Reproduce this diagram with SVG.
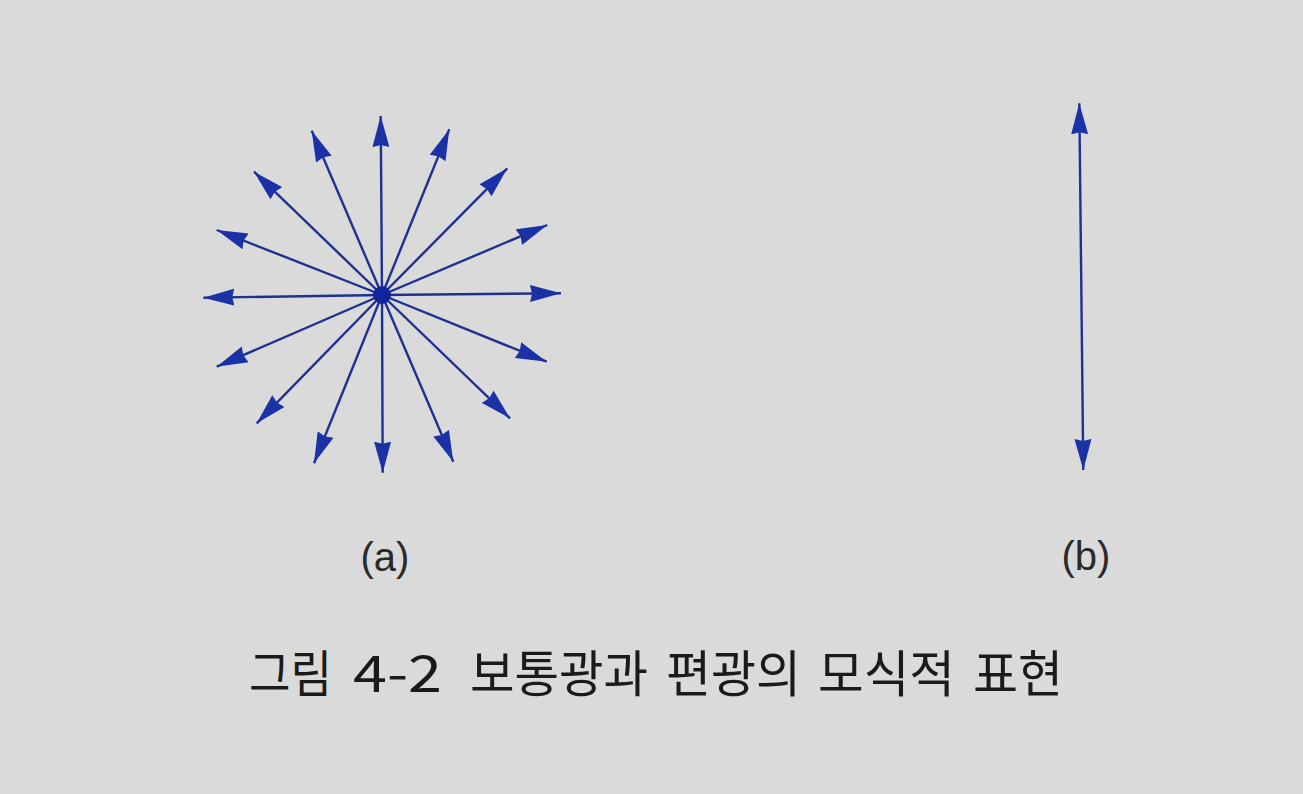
<svg xmlns="http://www.w3.org/2000/svg" width="1303" height="794" viewBox="0 0 1303 794">
<defs>
<marker id="ah" viewBox="-31 -9 31 18" refX="0" refY="0" markerWidth="31" markerHeight="18" markerUnits="userSpaceOnUse" orient="auto-start-reverse">
<path d="M0,0 L-31,-8.5 L-29,0 L-31,8.5 Z" class="head"/>
</marker>
</defs>
<style>
.bg{fill:#dadada}
.ray{stroke:#1f3190;stroke-width:2.4;fill:none;marker-end:url(#ah)}
.head{fill:#1a32a6}
.lbl{font-family:"Liberation Sans","Noto Sans",sans-serif;fill:#2a2a2a;text-anchor:middle}
.cap{font-family:"Noto Sans CJK KR","Noto Sans",sans-serif;fill:#1a1a1a;font-size:50px}
</style>
<rect class="bg" x="0" y="0" width="1303" height="794"/>
<g id="connectors">
<g id="star-rays">
<line class="ray" x1="382" y1="295" x2="380.7" y2="116"/>
<line class="ray" x1="382" y1="295" x2="449.3" y2="129.3"/>
<line class="ray" x1="382" y1="295" x2="507.3" y2="168.3"/>
<line class="ray" x1="382" y1="295" x2="547.3" y2="225"/>
<line class="ray" x1="382" y1="295" x2="561" y2="293.3"/>
<line class="ray" x1="382" y1="295" x2="546.7" y2="361.7"/>
<line class="ray" x1="382" y1="295" x2="510" y2="418.3"/>
<line class="ray" x1="382" y1="295" x2="453.3" y2="461.7"/>
<line class="ray" x1="382" y1="295" x2="382.7" y2="472.7"/>
<line class="ray" x1="382" y1="295" x2="314" y2="463.3"/>
<line class="ray" x1="382" y1="295" x2="256.7" y2="423.3"/>
<line class="ray" x1="382" y1="295" x2="216.7" y2="366.7"/>
<line class="ray" x1="382" y1="295" x2="203.3" y2="297.7"/>
<line class="ray" x1="382" y1="295" x2="216.7" y2="230"/>
<line class="ray" x1="382" y1="295" x2="254" y2="171.7"/>
<line class="ray" x1="382" y1="295" x2="311.7" y2="130.7"/>
</g>
<line id="polarized" class="ray" style="marker-start:url(#ah)" x1="1079.3" y1="103.3" x2="1083.3" y2="470"/>
</g>
<g id="center">
<circle cx="382" cy="295" r="9" fill="#13239a"/>
</g>
<g id="label-a"><text class="lbl" x="385" y="571" font-size="40">(a)</text></g>
<g id="label-b"><text class="lbl" x="1086" y="570" font-size="40">(b)</text></g>
<g id="caption">
<text class="cap" x="249" y="692" textLength="83" lengthAdjust="spacingAndGlyphs">그림</text>
<text class="cap" x="353" y="692" textLength="89" lengthAdjust="spacingAndGlyphs">4-2</text>
<text class="cap" x="470" y="692" textLength="178" lengthAdjust="spacingAndGlyphs">보통광과</text>
<text class="cap" x="666" y="692" textLength="135" lengthAdjust="spacingAndGlyphs">편광의</text>
<text class="cap" x="818" y="692" textLength="137" lengthAdjust="spacingAndGlyphs">모식적</text>
<text class="cap" x="973" y="692" textLength="90" lengthAdjust="spacingAndGlyphs">표현</text>
</g>
</svg>
